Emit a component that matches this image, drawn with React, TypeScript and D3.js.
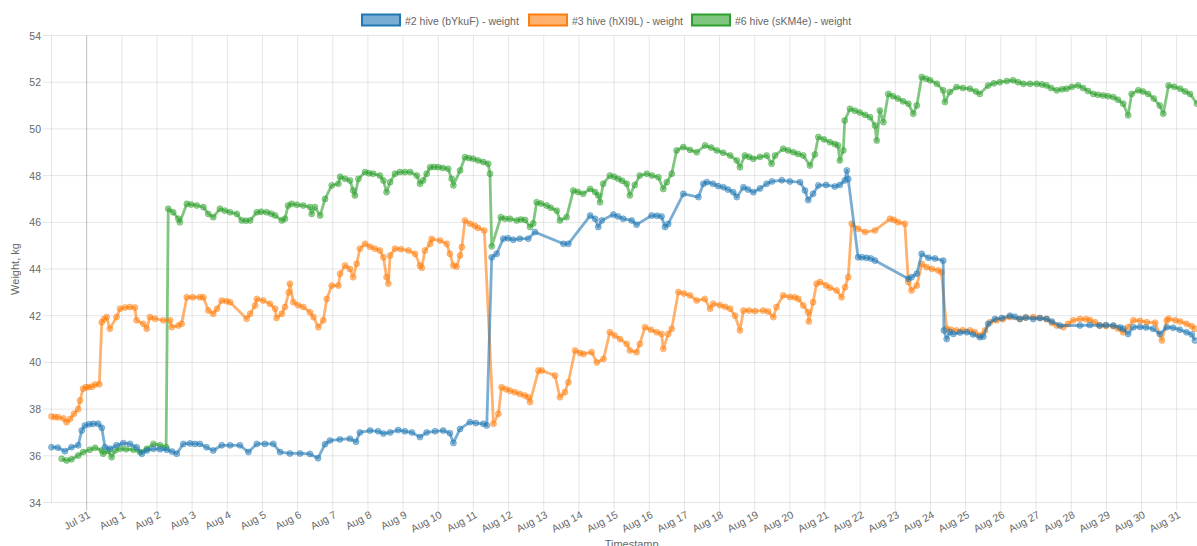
import React from "react";
import * as d3 from "d3";

// day offsets since Jul 30 00:00, weight in kg
const hive2: [number, number][] = [
  [0.0, 36.37], [0.18, 36.35], [0.38, 36.2], [0.57, 36.37], [0.76, 36.45], [0.86, 37.08], [0.95, 37.3], [1.07, 37.35],
  [1.19, 37.37], [1.33, 37.37], [1.43, 37.2], [1.52, 36.37], [1.66, 36.3], [1.85, 36.45], [2.04, 36.54], [2.23, 36.51],
  [2.42, 36.37], [2.57, 36.09], [2.71, 36.23], [2.9, 36.3], [3.09, 36.28], [3.28, 36.26], [3.43, 36.18], [3.56, 36.09],
  [3.75, 36.51], [3.94, 36.53], [4.08, 36.51], [4.22, 36.51], [4.41, 36.37], [4.6, 36.23], [4.84, 36.45], [5.08, 36.45],
  [5.36, 36.45], [5.6, 36.16], [5.84, 36.51], [6.07, 36.51], [6.31, 36.51], [6.5, 36.16], [6.78, 36.1], [7.07, 36.1],
  [7.35, 36.08], [7.58, 35.9], [7.78, 36.5], [7.92, 36.65], [8.2, 36.7], [8.49, 36.73], [8.66, 36.6], [8.77, 37.0],
  [9.06, 37.08], [9.29, 37.05], [9.44, 36.95], [9.63, 37.0], [9.86, 37.1], [10.05, 37.05], [10.25, 37.0], [10.48, 36.8],
  [10.67, 37.0], [10.91, 37.05], [11.14, 37.08], [11.33, 36.97], [11.43, 36.55], [11.62, 37.15], [11.9, 37.44], [12.07, 37.4],
  [12.28, 37.37], [12.38, 37.3], [12.52, 44.5], [12.66, 44.65], [12.85, 45.3], [12.98, 45.32], [13.13, 45.25], [13.32, 45.3],
  [13.56, 45.3], [13.75, 45.58], [14.56, 45.08], [14.7, 45.08], [15.32, 46.29], [15.46, 46.15], [15.55, 45.8], [15.65, 46.08],
  [15.98, 46.33], [16.11, 46.25], [16.26, 46.15], [16.5, 46.08], [16.64, 45.9], [17.07, 46.29], [17.22, 46.28], [17.35, 46.25],
  [17.45, 45.8], [17.54, 45.93], [17.97, 47.22], [18.4, 47.08], [18.54, 47.65], [18.64, 47.72], [18.81, 47.65], [18.96, 47.55],
  [19.11, 47.5], [19.24, 47.4], [19.39, 47.29], [19.49, 47.08], [19.68, 47.5], [19.81, 47.4], [19.96, 47.29], [20.15, 47.45],
  [20.34, 47.65], [20.49, 47.75], [20.77, 47.8], [21.0, 47.75], [21.29, 47.72], [21.43, 47.36], [21.52, 46.95], [21.66, 47.22],
  [21.81, 47.58], [22.03, 47.6], [22.28, 47.53], [22.42, 47.6], [22.56, 47.79], [22.62, 48.22], [22.66, 47.85], [22.94, 44.5],
  [23.05, 44.5], [23.18, 44.48], [23.3, 44.45], [23.42, 44.36], [24.37, 43.58], [24.46, 43.65], [24.61, 43.8], [24.75, 44.65],
  [24.94, 44.48], [25.13, 44.45], [25.36, 44.36], [25.38, 41.37], [25.46, 41.0], [25.55, 41.3], [25.65, 41.22], [25.84, 41.28],
  [26.03, 41.29], [26.21, 41.2], [26.4, 41.08], [26.5, 41.1], [26.64, 41.65], [26.83, 41.86], [27.03, 41.9], [27.26, 42.0],
  [27.4, 41.95], [27.54, 41.86], [27.71, 41.92], [27.92, 41.86], [28.11, 41.9], [28.3, 41.86], [28.45, 41.75], [28.68, 41.58],
  [29.25, 41.58], [29.53, 41.6], [29.81, 41.58], [29.99, 41.6], [30.2, 41.58], [30.39, 41.5], [30.48, 41.44], [30.62, 41.22],
  [30.77, 41.51], [30.96, 41.52], [31.13, 41.5], [31.33, 41.44], [31.52, 41.22], [31.72, 41.51], [31.9, 41.48], [32.09, 41.4],
  [32.28, 41.29], [32.43, 41.2], [32.52, 40.94],
];

const hive3: [number, number][] = [
  [0.0, 37.68], [0.1, 37.66], [0.19, 37.65], [0.34, 37.6], [0.43, 37.44], [0.53, 37.58], [0.64, 37.8], [0.76, 38.0],
  [0.81, 38.37], [0.9, 38.87], [0.98, 38.94], [1.05, 38.94], [1.15, 38.96], [1.24, 39.05], [1.36, 39.06], [1.43, 41.72],
  [1.49, 41.85], [1.57, 41.94], [1.66, 41.44], [1.85, 41.94], [1.95, 42.3], [2.09, 42.35], [2.23, 42.37], [2.37, 42.35],
  [2.42, 41.8], [2.61, 41.65], [2.71, 41.44], [2.8, 41.94], [2.94, 41.87], [3.18, 41.8], [3.37, 41.8], [3.42, 41.51],
  [3.61, 41.58], [3.7, 41.65], [3.85, 42.79], [4.02, 42.79], [4.22, 42.79], [4.32, 42.79], [4.46, 42.22], [4.6, 42.08],
  [4.71, 42.3], [4.84, 42.65], [4.98, 42.62], [5.08, 42.58], [5.55, 41.87], [5.65, 42.08], [5.79, 42.44], [5.84, 42.72],
  [6.02, 42.65], [6.21, 42.51], [6.36, 42.3], [6.4, 41.9], [6.55, 42.08], [6.64, 42.37], [6.75, 43.0], [6.78, 43.37],
  [6.88, 42.58], [7.01, 42.45], [7.16, 42.37], [7.35, 42.15], [7.45, 41.94], [7.59, 41.51], [7.73, 41.8], [7.83, 42.72],
  [7.97, 43.29], [8.16, 43.29], [8.21, 43.8], [8.35, 44.15], [8.49, 44.0], [8.58, 43.65], [8.68, 44.22], [8.77, 44.87],
  [8.92, 45.08], [9.06, 44.95], [9.2, 44.87], [9.34, 44.79], [9.44, 44.5], [9.53, 43.65], [9.58, 43.37], [9.63, 44.58],
  [9.77, 44.87], [9.94, 44.85], [10.15, 44.79], [10.34, 44.65], [10.48, 44.15], [10.53, 44.05], [10.62, 44.79], [10.77, 45.08],
  [10.81, 45.29], [11.05, 45.22], [11.24, 45.08], [11.33, 44.65], [11.43, 44.15], [11.52, 44.1], [11.62, 44.58], [11.67, 44.94],
  [11.76, 46.08], [11.9, 45.94], [12.04, 45.85], [12.13, 45.76], [12.31, 45.65], [12.57, 37.37], [12.71, 37.8], [12.8, 38.94],
  [12.93, 38.85], [13.04, 38.79], [13.18, 38.72], [13.32, 38.65], [13.46, 38.58], [13.56, 38.51], [13.61, 38.3], [13.85, 39.65],
  [13.94, 39.65], [14.32, 39.44], [14.46, 38.51], [14.6, 38.72], [14.7, 39.15], [14.89, 40.51], [15.03, 40.4], [15.13, 40.36],
  [15.36, 40.44], [15.51, 40.0], [15.7, 40.15], [15.88, 41.29], [16.02, 41.15], [16.17, 41.0], [16.36, 40.79], [16.45, 40.51],
  [16.64, 40.44], [16.73, 40.79], [16.88, 41.51], [17.05, 41.4], [17.21, 41.29], [17.35, 41.22], [17.4, 40.58], [17.54, 41.22],
  [17.64, 41.44], [17.83, 43.01], [17.99, 42.95], [18.16, 42.87], [18.35, 42.65], [18.58, 42.72], [18.73, 42.3], [18.82, 42.51],
  [19.01, 42.45], [19.16, 42.38], [19.3, 42.3], [19.44, 42.0], [19.58, 41.37], [19.68, 42.22], [19.84, 42.22], [20.01, 42.2],
  [20.24, 42.22], [20.38, 42.18], [20.53, 41.94], [20.62, 42.37], [20.81, 42.87], [21.0, 42.8], [21.14, 42.79], [21.24, 42.72],
  [21.38, 42.44], [21.52, 42.15], [21.54, 41.75], [21.66, 42.58], [21.76, 43.37], [21.86, 43.44], [22.03, 43.3], [22.14, 43.2],
  [22.33, 43.08], [22.47, 42.79], [22.57, 43.22], [22.66, 43.65], [22.76, 45.94], [22.94, 45.72], [23.14, 45.58], [23.42, 45.65],
  [23.85, 46.15], [23.96, 46.1], [24.08, 46.0], [24.27, 45.94], [24.37, 43.44], [24.46, 43.08], [24.61, 43.29], [24.75, 44.22],
  [24.89, 44.08], [25.04, 44.0], [25.22, 43.94], [25.31, 43.86], [25.46, 41.44], [25.58, 41.4], [25.74, 41.37], [25.92, 41.38],
  [26.12, 41.37], [26.26, 41.3], [26.4, 41.15], [26.55, 41.37], [26.69, 41.72], [26.88, 41.8], [27.06, 41.85], [27.26, 41.94],
  [27.54, 41.86], [27.71, 41.92], [27.92, 41.94], [28.11, 41.9], [28.3, 41.86], [28.45, 41.7], [28.59, 41.58], [28.78, 41.51],
  [28.91, 41.65], [29.06, 41.8], [29.25, 41.86], [29.42, 41.85], [29.53, 41.82], [29.68, 41.72], [29.81, 41.58], [29.99, 41.56],
  [30.2, 41.55], [30.33, 41.45], [30.48, 41.29], [30.62, 41.51], [30.77, 41.8], [30.96, 41.78], [31.15, 41.72], [31.39, 41.7],
  [31.58, 40.94], [31.72, 41.8], [31.77, 41.87], [31.96, 41.8], [32.1, 41.75], [32.28, 41.65], [32.43, 41.55], [32.52, 41.44],
];

const hive6: [number, number][] = [
  [0.29, 35.87], [0.43, 35.8], [0.57, 35.85], [0.76, 36.01], [0.9, 36.16], [1.09, 36.26], [1.24, 36.34], [1.43, 36.23],
  [1.47, 36.09], [1.62, 36.2], [1.71, 35.94], [1.81, 36.23], [1.95, 36.3], [2.12, 36.28], [2.33, 36.26], [2.52, 36.16],
  [2.71, 36.3], [2.9, 36.51], [3.09, 36.45], [3.26, 36.37], [3.32, 46.58], [3.46, 46.43], [3.61, 46.15], [3.65, 46.0],
  [3.85, 46.79], [3.97, 46.76], [4.13, 46.72], [4.32, 46.65], [4.46, 46.36], [4.6, 46.22], [4.79, 46.58], [4.93, 46.5],
  [5.08, 46.43], [5.27, 46.36], [5.41, 46.08], [5.53, 46.07], [5.65, 46.08], [5.84, 46.43], [5.96, 46.45], [6.12, 46.43],
  [6.25, 46.37], [6.36, 46.29], [6.55, 46.08], [6.64, 46.15], [6.73, 46.72], [6.83, 46.79], [6.98, 46.75], [7.16, 46.72],
  [7.35, 46.65], [7.4, 46.36], [7.49, 46.65], [7.64, 46.29], [7.78, 47.0], [7.97, 47.58], [8.16, 47.65], [8.21, 47.95],
  [8.35, 47.86], [8.49, 47.79], [8.58, 47.36], [8.63, 47.15], [8.73, 47.86], [8.92, 48.15], [9.03, 48.1], [9.15, 48.08],
  [9.34, 48.0], [9.44, 47.79], [9.53, 47.29], [9.63, 47.72], [9.77, 48.08], [9.91, 48.15], [10.05, 48.15], [10.2, 48.15],
  [10.39, 48.0], [10.48, 47.65], [10.57, 47.79], [10.67, 48.08], [10.77, 48.36], [10.88, 48.37], [11.0, 48.36], [11.13, 48.33],
  [11.28, 48.29], [11.38, 47.86], [11.43, 47.58], [11.62, 48.22], [11.76, 48.79], [11.87, 48.75], [11.99, 48.72], [12.13, 48.65],
  [12.28, 48.58], [12.42, 48.51], [12.47, 48.08], [12.52, 44.97], [12.78, 46.22], [12.9, 46.15], [13.04, 46.15], [13.23, 46.08],
  [13.35, 46.12], [13.47, 46.1], [13.61, 45.8], [13.7, 45.95], [13.8, 46.86], [13.92, 46.8], [14.08, 46.72], [14.2, 46.62],
  [14.37, 46.5], [14.46, 46.08], [14.65, 46.22], [14.84, 47.36], [14.97, 47.3], [15.12, 47.22], [15.32, 47.43], [15.46, 47.3],
  [15.55, 47.15], [15.6, 46.86], [15.69, 47.65], [15.88, 48.0], [16.0, 47.95], [16.12, 47.86], [16.23, 47.78], [16.36, 47.65],
  [16.45, 47.15], [16.59, 47.6], [16.73, 48.0], [16.93, 48.08], [17.08, 48.0], [17.26, 47.93], [17.4, 47.43], [17.5, 47.72],
  [17.64, 48.08], [17.78, 49.08], [17.97, 49.22], [18.16, 49.1], [18.35, 49.0], [18.59, 49.29], [18.76, 49.2], [18.92, 49.08],
  [19.1, 48.98], [19.3, 48.86], [19.49, 48.65], [19.58, 48.36], [19.72, 48.86], [19.84, 48.8], [19.96, 48.72], [20.15, 48.8],
  [20.34, 48.86], [20.48, 48.51], [20.58, 48.86], [20.81, 49.15], [20.95, 49.08], [21.1, 49.0], [21.23, 48.93], [21.38, 48.86],
  [21.57, 48.43], [21.71, 48.9], [21.81, 49.65], [21.97, 49.55], [22.14, 49.43], [22.28, 49.35], [22.37, 49.29], [22.42, 48.65],
  [22.52, 49.08], [22.56, 50.36], [22.71, 50.86], [22.85, 50.78], [22.99, 50.7], [23.14, 50.6], [23.28, 50.5], [23.42, 50.15],
  [23.47, 49.5], [23.56, 50.79], [23.66, 50.29], [23.8, 51.5], [23.93, 51.4], [24.07, 51.3], [24.22, 51.18], [24.37, 51.08],
  [24.51, 50.65], [24.61, 51.0], [24.75, 52.22], [24.87, 52.15], [24.99, 52.08], [25.18, 51.93], [25.36, 51.65], [25.41, 51.15],
  [25.55, 51.58], [25.74, 51.79], [25.92, 51.75], [26.12, 51.72], [26.29, 51.6], [26.4, 51.5], [26.64, 51.86], [26.8, 51.95],
  [26.97, 52.0], [27.17, 52.05], [27.35, 52.08], [27.49, 52.0], [27.64, 51.93], [27.83, 51.93], [28.02, 51.93], [28.17, 51.9],
  [28.3, 51.86], [28.43, 51.75], [28.59, 51.65], [28.74, 51.7], [28.87, 51.72], [29.02, 51.8], [29.2, 51.86], [29.34, 51.75],
  [29.48, 51.62], [29.63, 51.5], [29.76, 51.46], [29.91, 51.43], [30.05, 51.4], [30.2, 51.36], [30.33, 51.25], [30.48, 51.08],
  [30.62, 50.58], [30.72, 51.5], [30.91, 51.65], [31.04, 51.6], [31.19, 51.5], [31.35, 51.3], [31.52, 51.0], [31.62, 50.65],
  [31.77, 51.86], [31.93, 51.8], [32.1, 51.72], [32.24, 51.6], [32.38, 51.5], [32.58, 51.08],
];

const seriesNames = ["#2 hive (bYkuF) - weight", "#3 hive (hXI9L) - weight", "#6 hive (sKM4e) - weight"];
const seriesColors = ["#1f77b4", "#ff7f0e", "#2ca02c"];
const yTicks = [34, 36, 38, 40, 42, 44, 46, 48, 50, 52, 54];
const xTitle = "Timestamp";
const yTitle = "Weight, kg";

const W = 1197;
const H = 546;
const FONT = "'Liberation Sans', Arial, Helvetica, sans-serif";

export default function App() {
  const start = new Date(2020, 6, 30);
  const end = new Date(2020, 8, 1);
  const left = 51.5, right = 1211.8, top = 35.5, bottom = 502.5;
  const x = d3.scaleTime().domain([start, end]).range([left, right]);
  const y = d3.scaleLinear().domain([34, 54]).range([bottom, top]);
  const toDate = (d: number) => new Date(start.getTime() + d * 86400000);
  const xTicks = d3.timeDay.range(new Date(2020, 6, 31), new Date(2020, 8, 1));
  const fmt = d3.timeFormat("%b %-d");
  const line = d3
    .line<[number, number]>()
    .x((p) => x(toDate(p[0])))
    .y((p) => y(p[1]));

  const all = [hive2, hive3, hive6];
  const drawOrder = [2, 1, 0];
  const legendX = [362, 529, 692];

  return (
    <svg
      width={W}
      height={H}
      style={{ position: "absolute", left: 0, top: 0, background: "#fff" }}
      fontFamily={FONT}
    >
      {/* grid */}
      {yTicks.map((t) => (
        <line key={"yg" + t} x1={43} x2={right} y1={y(t)} y2={y(t)} stroke="rgba(0,0,0,0.1)" strokeWidth={1} />
      ))}
      <line x1={left} x2={left} y1={top} y2={bottom} stroke="rgba(0,0,0,0.1)" />
      {xTicks.map((t, i) => (
        <line
          key={"xg" + i}
          x1={x(t)}
          x2={x(t)}
          y1={top}
          y2={bottom + 8}
          stroke={i === 0 ? "rgba(0,0,0,0.25)" : "rgba(0,0,0,0.1)"}
          strokeWidth={1}
        />
      ))}
      {/* y labels */}
      {yTicks.map((t) => (
        <text key={"yl" + t} x={41} y={y(t)} textAnchor="end" dominantBaseline="central" fontSize={10.5} fill="#666">
          {t}
        </text>
      ))}
      {/* x labels */}
      {xTicks.map((t, i) => (
        <text
          key={"xl" + i}
          transform={`translate(${x(t) + 2.6},${bottom + 11}) rotate(-28)`}
          textAnchor="end"
          dominantBaseline="central"
          fontSize={10.5}
          fill="#666"
        >
          {fmt(t)}
        </text>
      ))}
      {/* axis titles */}
      <text x={(left + right) / 2} y={547.5} textAnchor="middle" fontSize={11} fill="#666">
        {xTitle}
      </text>
      <text
        transform={`translate(15,${(top + bottom) / 2}) rotate(-90)`}
        textAnchor="middle"
        dominantBaseline="central"
        fontSize={11}
        fill="#666"
      >
        {yTitle}
      </text>
      {/* series */}
      <g>
        {drawOrder.map((si) => (
          <g key={"s" + si}>
            <path d={line(all[si]) || ""} fill="none" stroke={seriesColors[si]} strokeOpacity={0.6} strokeWidth={2.8} strokeLinejoin="round" />
            {all[si].map((p, j) => (
              <circle
                key={j}
                cx={x(toDate(p[0]))}
                cy={y(p[1])}
                r={3}
                fill={seriesColors[si]}
                fillOpacity={0.45}
                stroke={seriesColors[si]}
                strokeOpacity={0.45}
                strokeWidth={1}
              />
            ))}
          </g>
        ))}
      </g>
      {/* legend */}
      {seriesNames.map((n, i) => (
        <g key={"lg" + i}>
          <rect x={legendX[i]} y={14.5} width={38} height={11} fill={seriesColors[i]} fillOpacity={0.6} stroke={seriesColors[i]} strokeWidth={2} />
          <text x={legendX[i] + 43} y={20.5} dominantBaseline="central" fontSize={10.5} fill="#666">
            {n}
          </text>
        </g>
      ))}
    </svg>
  );
}
